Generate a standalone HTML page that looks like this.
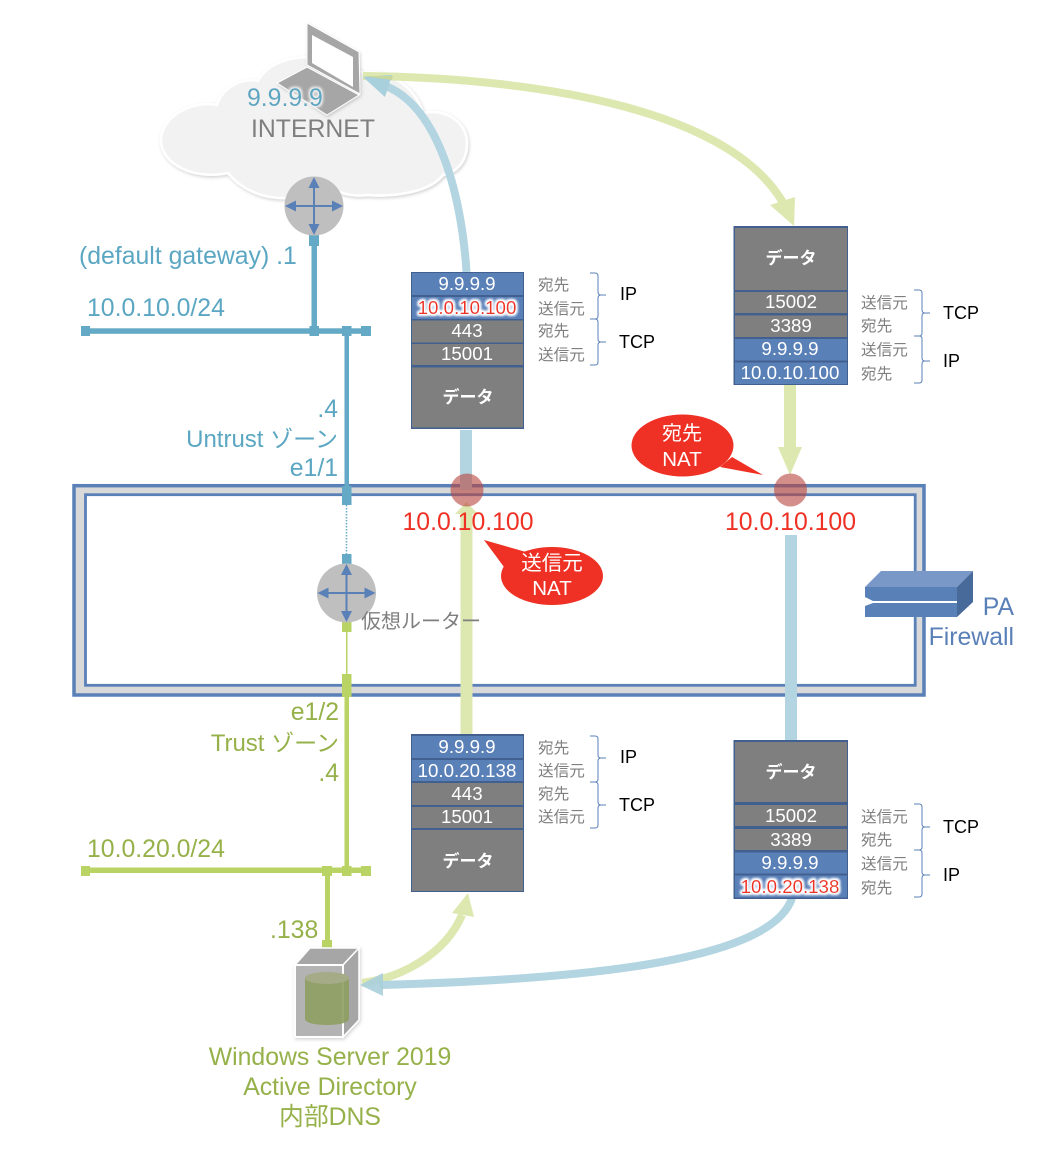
<!DOCTYPE html>
<html><head><meta charset="utf-8"><style>
html,body{margin:0;padding:0;background:#fff}
svg{display:block}
text{font-family:"Liberation Sans","Noto Sans CJK JP",sans-serif}
.w{fill:#fff;font-size:18.7px;text-anchor:middle}
.d{fill:#fff;font-size:17px;text-anchor:middle;font-weight:bold}
.l{fill:#7f7f7f;font-size:15.6px}
.k{fill:#000;font-size:18px}
.t{fill:#5ba6c2;font-size:24.8px}
.g{fill:#96b14a;font-size:24.8px}
.z{font-size:24px}
.z tspan{font-size:23px}
.gl{fill:#ee3124;font-size:18.7px;text-anchor:middle}
.r{fill:#ee3124;font-size:24.8px;text-anchor:middle}
</style></head><body>
<svg width="1059" height="1161" viewBox="0 0 1059 1161" xmlns="http://www.w3.org/2000/svg">
<defs>
<filter id="sh" x="-10%" y="-10%" width="125%" height="125%"><feDropShadow dx="1" dy="1.500" stdDeviation="1.500" flood-color="#000" flood-opacity=".18"/></filter>
<filter id="gw" x="-15%" y="-40%" width="130%" height="180%">
<feMorphology in="SourceAlpha" operator="dilate" radius="1.500" result="m"/>
<feGaussianBlur in="m" stdDeviation="1.300" result="b"/>
<feFlood flood-color="#fff"/><feComposite in2="b" operator="in" result="c"/>
<feMerge><feMergeNode in="c"/><feMergeNode in="c"/><feMergeNode in="SourceGraphic"/></feMerge>
</filter>
<filter id="gc" x="-15%" y="-40%" width="130%" height="180%">
<feMorphology in="SourceAlpha" operator="dilate" radius="1.500" result="m"/>
<feGaussianBlur in="m" stdDeviation="1.300" result="b"/>
<feFlood flood-color="#f2f2f2"/><feComposite in2="b" operator="in" result="c"/>
<feMerge><feMergeNode in="c"/><feMergeNode in="SourceGraphic"/></feMerge>
</filter>
<g id="rt">
<circle r="29.500" fill="#bfbfbf"/>
<path d="M0-22V22M-22,0H22" stroke="#5a80b8" stroke-width="2" fill="none"/>
<path d="M0-29L-5.500-18H5.500ZM0,29L-5.500,18H5.500ZM-29,0L-18-5.500V5.500ZM29,0L18-5.500V5.500Z" fill="#5a80b8"/>
</g>
</defs>

<!-- cloud -->
<path d="M161,140 C161,118 190,100 217,105 C222,88 240,78 258,81 C268,62 295,55 315,58 C335,55 350,62 363,73 C385,68 415,85 423,113 C445,108 467,122 467,143 C467,160 458,172 443,175 C430,192 395,197 367,195 C350,197 338,192 332,188 C315,197 300,200 283,198 C260,198 240,188 228,173 C195,180 161,165 161,140Z" fill="#f2f2f2" stroke="#fff" stroke-width="2.500" filter="url(#sh)"/>

<!-- firewall -->
<rect x="74" y="485.700" width="850" height="209.300" fill="#d9d9d9" stroke="#5a80b8" stroke-width="3.500"/>
<rect x="85.500" y="494.700" width="829.700" height="190.600" fill="#fff" stroke="#5a80b8" stroke-width="2.800"/>

<!-- laptop -->
<g filter="url(#sh)">
<path d="M277,83L307,67L359,95L327,115Z" fill="#a6a6a6" stroke="#fff" stroke-width="1"/>
<path d="M307,23L359,52L360,94L307,65Z" fill="#a6a6a6" stroke="#fff" stroke-width="1"/>
<path d="M312,35L353,57L353,87L312,63Z" fill="#fff"/>
</g>

<!-- teal network -->
<g fill="#64a9c5">
<rect x="81" y="326" width="9" height="10"/><rect x="309.500" y="326" width="9.500" height="10"/><rect x="342" y="326" width="9.500" height="10"/><rect x="361" y="326" width="10" height="10"/>
<rect x="83" y="328.300" width="285" height="5.500"/>
<rect x="311.500" y="236" width="5.500" height="95"/>
<rect x="309" y="235" width="10" height="11"/>
<rect x="344.500" y="330" width="4.500" height="160"/>
<rect x="342" y="486" width="9.500" height="19"/>
<rect x="342" y="554" width="9.500" height="10"/>
</g>
<path d="M346.500,505V554" stroke="#64a9c5" stroke-width="1.500" stroke-dasharray="1.500 1.500" fill="none"/>

<!-- green network -->
<g fill="#b9d465">
<rect x="81" y="866" width="9" height="10"/><rect x="322" y="866" width="10" height="10"/><rect x="342" y="866" width="9.500" height="10"/><rect x="361" y="866" width="10" height="10"/>
<rect x="83" y="867.500" width="285" height="5.500"/>
<rect x="344.500" y="690" width="4.500" height="180"/>
<rect x="325" y="870" width="5" height="72"/>
<rect x="322" y="940" width="10" height="10"/>
<rect x="342" y="674" width="9.500" height="23"/>
<rect x="342" y="622" width="9.500" height="10"/>
<rect x="346" y="630" width="1.500" height="46"/>
</g>

<use href="#rt" x="314" y="206"/>
<use href="#rt" x="346.500" y="593"/>

<!-- server -->
<g filter="url(#sh)">
<path d="M295,965L310,948H359L343,965Z" fill="#a6a6a6" stroke="#fff" stroke-width="1.500"/>
<path d="M343,965L359,948V1020L343,1037Z" fill="#a6a6a6" stroke="#fff" stroke-width="1.500"/>
<rect x="295" y="965" width="48" height="72" fill="#b3b3b3" stroke="#fff" stroke-width="2"/>
</g>
<path d="M305,978V1019C305,1027 349,1027 349,1019V978Z" fill="#8e9d62" fill-opacity=".9"/>
<ellipse cx="327" cy="978" rx="22" ry="6" fill="#a4ab86"/>

<!-- flow arrows -->
<g fill="none" stroke-width="8">
<path d="M466.500,272C462,200 440,105 383,85" stroke="#b2d5e1"/>
<path d="M363,76C540,78 740,110 788,212" stroke="#dde8b0"/>
<path d="M362,983C400,978 445,955 462,915" stroke="#dde8b0"/>
<path d="M380,985C560,980 770,965 792,898" stroke="#b2d5e1"/>
</g>
<g fill="none" stroke-width="12">
<path d="M466.500,735V510" stroke="#dde8b0"/>
<path d="M466,430V490" stroke="#b2d5e1"/>
<path d="M790,385V450" stroke="#dde8b0"/>
<path d="M791,535V741" stroke="#b2d5e1"/>
</g>
<path d="M363,77L392,75L385,97Z" fill="#a8cfdc"/>
<path d="M363,76H393L392,80Z" fill="#c7d89e"/>
<path d="M794,226L770,205L795,197Z" fill="#dde8b0"/>
<path d="M468,893L452,913L474,917Z" fill="#dde8b0"/>
<path d="M360,985L383,973V996Z" fill="#a8cfdc" fill-opacity=".9"/>
<path d="M790,475L778,447H802Z" fill="#dde8b0"/>
<path d="M466.500,502L455,514H478Z" fill="#dde8b0"/>

<!-- NAT circles -->
<circle cx="467" cy="490" r="16.500" fill="#b9443e" fill-opacity=".6"/>
<circle cx="790.500" cy="490" r="16.500" fill="#b9443e" fill-opacity=".6"/>

<!-- PA device -->
<rect x="873" y="600" width="85" height="4" fill="#fff"/>
<path d="M865,587L881,571H973L957,587Z" fill="#7a98c7"/>
<path d="M957,587L973,571V602L957,617Z" fill="#476a9b"/>
<path d="M865,587H957V601H873L865,597ZM865,606L873,603H957V617H865Z" fill="#5a80b8"/>

<!-- packet 1 -->
<rect x="411" y="272" width="113" height="157" fill="#41608f"/>
<rect x="412" y="273" width="111" height="22" fill="#5a80b8"/><rect x="412" y="297" width="111" height="22" fill="#5a80b8"/>
<rect x="412" y="320.500" width="111" height="22" fill="#7f7f7f"/><rect x="412" y="344" width="111" height="21" fill="#7f7f7f"/><rect x="412" y="367.500" width="111" height="60" fill="#7f7f7f"/>
<text class="w" x="467" y="290">9.9.9.9</text>
<text class="gl" x="467" y="314" filter="url(#gw)">10.0.10.100</text>
<text class="w" x="467" y="337">443</text>
<text class="w" x="467" y="360">15001</text>
<text class="d" x="468" y="403">データ</text>
<text class="l" x="538" y="290">宛先</text><text class="l" x="538" y="314">送信元</text><text class="l" x="538" y="336">宛先</text><text class="l" x="538" y="360">送信元</text>
<text class="k" x="620" y="300">IP</text><text class="k" x="619" y="348">TCP</text>
<path d="M590,273H595Q598,273 598,276V292Q598,295 601,295H606H601Q598,295 598,298V316Q598,319 595,319H590H595Q598,319 598,322V339Q598,342 601,342H606H601Q598,342 598,345V362Q598,365 595,365H590" fill="none" stroke="#5a80b8" stroke-width="1"/>

<!-- packet 2 -->
<rect x="733.500" y="226" width="114.500" height="159" fill="#41608f"/>
<rect x="735" y="228" width="112" height="62" fill="#7f7f7f"/><rect x="735" y="292" width="112" height="21" fill="#7f7f7f"/><rect x="735" y="315.500" width="112" height="21.500" fill="#7f7f7f"/>
<rect x="735" y="339" width="112" height="21.500" fill="#5a80b8"/><rect x="735" y="362.500" width="112" height="21.500" fill="#5a80b8"/>
<text class="d" x="791" y="264">データ</text>
<text class="w" x="791" y="308">15002</text><text class="w" x="791" y="332">3389</text><text class="w" x="790" y="355">9.9.9.9</text><text class="w" x="790" y="379">10.0.10.100</text>
<text class="l" x="861" y="308">送信元</text><text class="l" x="861" y="331">宛先</text><text class="l" x="861" y="355">送信元</text><text class="l" x="861" y="379">宛先</text>
<text class="k" x="943" y="319">TCP</text><text class="k" x="943" y="367">IP</text>
<path d="M914,290H919Q922,290 922,293V310Q922,313 925,313H930H925Q922,313 922,316V333Q922,336 919,336H914H919Q922,336 922,339V358Q922,361 925,361H930H925Q922,361 922,364V380Q922,383 919,383H914" fill="none" stroke="#5a80b8" stroke-width="1"/>

<!-- packet 3 -->
<rect x="411" y="734" width="113" height="158" fill="#41608f"/>
<rect x="412" y="736" width="111" height="22" fill="#5a80b8"/><rect x="412" y="760" width="111" height="21" fill="#5a80b8"/>
<rect x="412" y="783" width="111" height="22" fill="#7f7f7f"/><rect x="412" y="807" width="111" height="21" fill="#7f7f7f"/><rect x="412" y="830" width="111" height="61" fill="#7f7f7f"/>
<text class="w" x="467" y="753">9.9.9.9</text><text class="w" x="467" y="777">10.0.20.138</text><text class="w" x="467" y="800">443</text><text class="w" x="467" y="823">15001</text>
<text class="d" x="468" y="867">データ</text>
<text class="l" x="538" y="753">宛先</text><text class="l" x="538" y="776">送信元</text><text class="l" x="538" y="799">宛先</text><text class="l" x="538" y="822">送信元</text>
<text class="k" x="620" y="763">IP</text><text class="k" x="619" y="811">TCP</text>
<path d="M590,736H595Q598,736 598,739V755Q598,758 601,758H606H601Q598,758 598,761V779Q598,782 595,782H590H595Q598,782 598,785V802Q598,805 601,805H606H601Q598,805 598,808V825Q598,828 595,828H590" fill="none" stroke="#5a80b8" stroke-width="1"/>

<!-- packet 4 -->
<rect x="733.500" y="740" width="114.500" height="159" fill="#41608f"/>
<rect x="735" y="742" width="112" height="60" fill="#7f7f7f"/><rect x="735" y="805" width="112" height="21" fill="#7f7f7f"/><rect x="735" y="829" width="112" height="21" fill="#7f7f7f"/>
<rect x="735" y="852.500" width="112" height="21" fill="#5a80b8"/><rect x="735" y="875.500" width="112" height="22" fill="#5a80b8"/>
<text class="d" x="791" y="778">データ</text>
<text class="w" x="791" y="822">15002</text><text class="w" x="791" y="846">3389</text><text class="w" x="790" y="869">9.9.9.9</text>
<text class="gl" x="790" y="893" filter="url(#gw)">10.0.20.138</text>
<text class="l" x="861" y="822">送信元</text><text class="l" x="861" y="845">宛先</text><text class="l" x="861" y="869">送信元</text><text class="l" x="861" y="893">宛先</text>
<text class="k" x="943" y="833">TCP</text><text class="k" x="943" y="881">IP</text>
<path d="M914,804H919Q922,804 922,807V824Q922,827 925,827H930H925Q922,827 922,830V847Q922,850 919,850H914H919Q922,850 922,853V872Q922,875 925,875H930H925Q922,875 922,878V894Q922,897 919,897H914" fill="none" stroke="#5a80b8" stroke-width="1"/>

<!-- callouts -->
<ellipse cx="682.500" cy="445.500" rx="51" ry="31" fill="#ee3124"/>
<path d="M732,457L763,475L720,467Z" fill="#ee3124"/>
<ellipse cx="552" cy="576" rx="51" ry="29" fill="#ee3124"/>
<path d="M484,540L526,552L504,567Z" fill="#ee3124"/>
<text x="682" y="440" fill="#fff" font-size="20" text-anchor="middle">宛先</text>
<text x="682" y="466" fill="#fff" font-size="20.500" text-anchor="middle">NAT</text>
<text x="552" y="570" fill="#fff" font-size="20.500" text-anchor="middle">送信元</text>
<text x="552" y="595" fill="#fff" font-size="20.500" text-anchor="middle">NAT</text>

<!-- labels -->
<text x="247" y="106" fill="#5ba6c2" font-size="24.800" filter="url(#gc)">9.9.9.9</text>
<text x="251" y="137" fill="#7f7f7f" font-size="24.800">INTERNET</text>
<text class="t" x="79" y="264">(default gateway) .1</text>
<text class="t" x="87" y="316">10.0.10.0/24</text>
<text class="t" x="338" y="417" text-anchor="end">.4</text>
<text class="t z" x="338" y="447" text-anchor="end">Untrust <tspan>ゾーン</tspan></text>
<text class="t" x="338" y="476" text-anchor="end">e1/1</text>
<text class="r" x="468" y="530">10.0.10.100</text>
<text class="r" x="790.500" y="530">10.0.10.100</text>
<text x="361" y="628" fill="#7f7f7f" font-size="20">仮想ルーター</text>
<text x="1014" y="615" fill="#5a80b8" font-size="24.800" text-anchor="end">PA</text>
<text x="1014" y="645" fill="#5a80b8" font-size="24.800" text-anchor="end">Firewall</text>
<text class="g" x="339" y="720" text-anchor="end">e1/2</text>
<text class="g z" x="339" y="751" text-anchor="end">Trust <tspan>ゾーン</tspan></text>
<text class="g" x="339" y="781" text-anchor="end">.4</text>
<text class="g" x="87" y="857">10.0.20.0/24</text>
<text class="g" x="270" y="938">.138</text>
<text class="g" x="330" y="1065" text-anchor="middle">Windows Server 2019</text>
<text class="g" x="330" y="1095" text-anchor="middle">Active Directory</text>
<text class="g" x="330" y="1125" text-anchor="middle">内部DNS</text>
</svg>
</body></html>
